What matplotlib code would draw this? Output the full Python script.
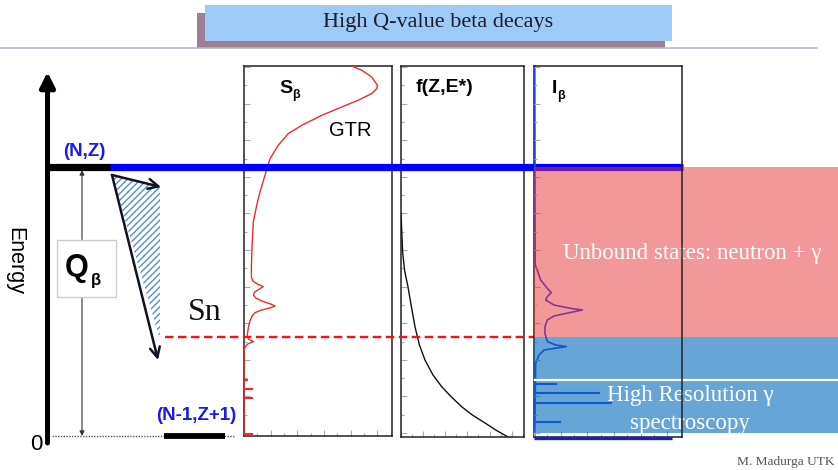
import matplotlib
matplotlib.use("Agg")
import matplotlib.pyplot as plt
from matplotlib.patches import Rectangle, Polygon
from matplotlib.ticker import MultipleLocator, AutoMinorLocator

plt.rcParams['hatch.linewidth'] = 1.0

# ---------------- data (energies in MeV, intensities normalised) ----------------
Q_BETA = 13.5          # Q-value of the decay (N,Z) level
S_N = 5.0              # neutron separation energy

# S_beta strength function (GTR)
sb_E = [18.7, 18.55, 18.34, 18.0, 17.59, 17.42, 17.17, 16.84, 16.5, 16.08,
        15.59, 15.17, 14.59, 13.92, 13.09, 12.25, 11.59, 10.75, 9.5, 8.5,
        8.0, 7.8, 7.65, 7.52, 7.4, 7.25, 7.1, 6.95, 6.8, 6.65, 6.55, 6.45,
        6.35, 6.22, 6.05, 5.8, 5.5, 5.1, 4.9, 4.77, 4.65, 4.5, 4.35, 0.0]
sb_val = [0.69, 0.728, 0.795, 0.863, 0.901, 0.897, 0.863, 0.772, 0.660, 0.525,
          0.392, 0.299, 0.232, 0.176, 0.142, 0.108, 0.086, 0.063, 0.054, 0.05,
          0.05, 0.06, 0.09, 0.13, 0.105, 0.072, 0.063, 0.08, 0.12, 0.18, 0.21,
          0.175, 0.12, 0.075, 0.055, 0.04, 0.03, 0.022, 0.03, 0.063, 0.025,
          0.008, 0.0, 0.0]
sb_lines_E = [2.85, 2.4, 1.95, 0.15]
sb_lines_val = [0.03, 0.06, 0.06, 0.06]

# Fermi function f(Z,E*)
f_E = [11.2, 10.0, 9.2, 8.3, 7.5, 6.5, 5.5, 4.6, 3.85, 3.1, 2.5, 2.0, 1.5,
       1.1, 0.7, 0.35, 0.0]
f_val = [0.0, 0.008, 0.014, 0.03, 0.057, 0.085, 0.114, 0.15, 0.195, 0.26,
         0.333, 0.41, 0.496, 0.58, 0.683, 0.77, 0.87]

# beta intensity I_beta
ib_E = [18.6, 8.6, 8.35, 7.85, 7.43, 7.22, 7.02, 6.85, 6.6, 6.43, 6.35, 6.23,
        6.05, 5.85, 5.52, 5.18, 4.77, 4.6, 4.52, 4.43, 4.35, 4.1, 3.68, 0.0]
ib_val = [0.005, 0.008, 0.022, 0.045, 0.09, 0.117, 0.09, 0.079, 0.135, 0.248,
          0.327, 0.248, 0.135, 0.09, 0.074, 0.074, 0.09, 0.147, 0.218, 0.135,
          0.068, 0.034, 0.011, 0.005]
ib_lines_E = [2.65, 2.2, 1.7, 0.75]
ib_lines_val = [0.155, 0.446, 0.527, 0.18]
ib_ground_E = -0.05
ib_ground_val = 0.93

# ---------------- layout helpers (pixels of the 838x470 canvas) ----------------
W, H = 838, 470
Y0_PX = 437            # pixel row of E = 0
PX_PER_MEV = 20.0


def E_at(ypx):
    return (Y0_PX - ypx) / PX_PER_MEV


def fig_box(x0, y0, x1, y1):
    return [x0 / W, 1 - y1 / H, (x1 - x0) / W, (y1 - y0) / H]


SANS = 'Liberation Sans'
SERIF = 'Liberation Serif'
BLUE = '#0000ff'
LBL_BLUE = '#1a1aee'

fig = plt.figure(figsize=(W / 100, H / 100), dpi=100)
fig.patch.set_facecolor('white')

ax_bg = fig.add_axes([0, 0, 1, 1], zorder=0)
ax_bg.set_xlim(0, W)
ax_bg.set_ylim(E_at(H), E_at(0))
ax_bg.axis('off')

# ---- title banner ----
ax_bg.add_patch(Rectangle((197, E_at(48)), 468, E_at(13) - E_at(48),
                          facecolor='#9b8096', edgecolor='none'))
ax_bg.add_patch(Rectangle((205, E_at(41)), 467, E_at(5) - E_at(41),
                          facecolor='#9dcbf7', edgecolor='none'))
ax_bg.plot([0, 817], [E_at(47.5)] * 2, color='#b4b8c8', lw=1.2)
ax_bg.text(438, E_at(23), 'High Q-value beta decays', ha='center', va='center',
           fontsize=16, family=SERIF, color='#1c1c30')

# ---- energy axis ----
ax_bg.annotate('', xy=(47.5, E_at(72)), xytext=(47.5, E_at(443)),
               arrowprops=dict(arrowstyle='-|>', lw=3.6, color='black',
                               mutation_scale=22, shrinkA=0, shrinkB=0))
ax_bg.text(15, E_at(261), 'Energy', rotation=270, ha='center', va='center',
           fontsize=15.5, family=SANS)
ax_bg.text(36, E_at(445), '0', ha='center', va='center', fontsize=16, family=SANS)

# ---- levels ----
ax_bg.hlines(Q_BETA, 47, 111, color='black', lw=5.2)
ax_bg.text(84, E_at(152), '(N,Z)', ha='center', va='center', fontsize=13.5,
           family=SANS, weight='bold', color=LBL_BLUE)
ax_bg.hlines(0.05, 52, 235, color='#555555', lw=1.0, linestyles=(0, (1, 1)))
ax_bg.hlines(0.05, 164, 225, color='black', lw=4.2)
ax_bg.text(196, E_at(416), '(N-1,Z+1)', ha='center', va='center', fontsize=13.5,
           family=SANS, weight='bold', color=LBL_BLUE)

# ---- Q_beta arrow and box ----
ax_bg.annotate('', xy=(82, Q_BETA - 0.15), xytext=(82, 0.05),
               arrowprops=dict(arrowstyle='<|-|>', lw=0.8, color='#333333',
                               mutation_scale=7, shrinkA=0, shrinkB=0))
ax_bg.add_patch(Rectangle((57, E_at(297)), 59, E_at(240) - E_at(297),
                          facecolor='white', edgecolor='#cccccc', lw=1.0, zorder=3))
ax_bg.text(77, E_at(268), 'Q', ha='center', va='center', fontsize=22,
           family=SANS, weight='bold', zorder=4)
ax_bg.text(96, E_at(281), 'β', ha='center', va='center', fontsize=12,
           family=SANS, weight='bold', zorder=4)

# ---- hatched feeding triangle ----
tri = Polygon([(112, E_at(175)), (160, E_at(187)), (160, E_at(340))],
              closed=True, facecolor='white', edgecolor='#4f8fcc', lw=0,
              hatch='/////', zorder=2)
ax_bg.add_patch(tri)
ax_bg.annotate('', xy=(161, E_at(187)), xytext=(112, E_at(175)),
               arrowprops=dict(arrowstyle='->,head_length=0.6,head_width=0.3',
                               lw=1.8, color='#111122', mutation_scale=12,
                               shrinkA=0, shrinkB=0), zorder=3)
ax_bg.annotate('', xy=(158, E_at(360)), xytext=(112, E_at(175)),
               arrowprops=dict(arrowstyle='->,head_length=0.6,head_width=0.3',
                               lw=1.8, color='#111122', mutation_scale=12,
                               shrinkA=0, shrinkB=0), zorder=3)
ax_bg.text(205, E_at(313), 'Sn', ha='center', va='center', fontsize=23,
           family=SERIF, color='#111111')

# bottom-right credit
ax_bg.text(737, E_at(462), 'M. Madurga UTK', ha='left', va='center', fontsize=9.6,
           family=SERIF, color='#555555')


# ---------------- panels ----------------
def style_panel(ax, e_bot_px, facecolor='white'):
    ax.set_xlim(0, 1)
    ax.set_ylim(E_at(e_bot_px), E_at(66))
    ax.set_facecolor(facecolor)
    for sp in ax.spines.values():
        sp.set_color('#222222')
        sp.set_linewidth(1.1)
    ax.yaxis.set_major_locator(MultipleLocator(1.83, offset=0.2))
    ax.yaxis.set_minor_locator(AutoMinorLocator(2))
    ax.xaxis.set_major_locator(MultipleLocator(0.18))
    ax.xaxis.set_minor_locator(AutoMinorLocator(2))
    ax.tick_params(which='both', direction='in', color='#aaaaaa',
                   labelleft=False, labelbottom=False, width=0.8)
    ax.tick_params(which='major', length=4)
    ax.tick_params(which='minor', length=2)


ax_S = fig.add_axes(fig_box(244, 66, 392, 436), zorder=1)
style_panel(ax_S, 436)
ax_S.plot(sb_val, sb_E, color='#ee2a2a', lw=1.0, zorder=3, solid_joinstyle='round')
ax_S.hlines(sb_lines_E, 0, sb_lines_val, color='#ee2a2a', lw=1.5, zorder=3)
ax_S.text(279, E_at(93), 'S', transform=ax_bg.transData, fontsize=14,
          family=SANS, weight='bold', va='baseline')
ax_S.text(292, E_at(98), 'β', transform=ax_bg.transData, fontsize=9,
          family=SANS, weight='bold', va='baseline')
ax_S.text(350, E_at(130), 'GTR', transform=ax_bg.transData, fontsize=14.5,
          family=SANS, ha='center', va='center')

ax_f = fig.add_axes(fig_box(401, 66, 524, 437), zorder=1)
style_panel(ax_f, 437)
ax_f.plot(f_val, f_E, color='#111111', lw=1.0, zorder=3)
ax_f.text(416, E_at(92), 'f(Z,E*)', transform=ax_bg.transData, fontsize=14,
          family=SANS, weight='bold', va='baseline')

# middle overlay: levels crossing the panels
ax_mid = fig.add_axes([0, 0, 1, 1], zorder=2)
ax_mid.set_xlim(0, W)
ax_mid.set_ylim(E_at(H), E_at(0))
ax_mid.axis('off')
ax_mid.patch.set_alpha(0)
ax_mid.hlines(Q_BETA, 110, 683, color=BLUE, lw=5.2)
ax_mid.hlines(S_N, 165, 534, color='#ff1010', lw=1.7,
              linestyles=(0, (3.6, 1.9)))

# I_beta panel with overlaid regions
ax_I = fig.add_axes(fig_box(534, 66, 682, 437), zorder=3)
style_panel(ax_I, 437, facecolor='none')
ax_I.spines['left'].set_zorder(1.0)
ax_I.plot(ib_val, ib_E, color='#1f3ff0', lw=1.2, zorder=1.5, solid_joinstyle='round')
ax_I.hlines(ib_lines_E, 0, ib_lines_val, color='#1f3ff0', lw=1.5, zorder=1.5)
ax_I.hlines(ib_ground_E, 0, ib_ground_val, color='#1a1ad8', lw=2.4, zorder=2.6,
            clip_on=False)
ax_I.text(552, E_at(93), 'I', transform=ax_bg.transData, fontsize=14,
          family=SANS, weight='bold', va='baseline', zorder=5)
ax_I.text(557, E_at(99), 'β', transform=ax_bg.transData, fontsize=9,
          family=SANS, weight='bold', va='baseline', zorder=5)

ax_I.add_patch(Rectangle((534, S_N), W - 534, Q_BETA - S_N,
                         transform=ax_bg.transData, facecolor=(233 / 255, 51 / 255, 53 / 255),
                         alpha=0.5, edgecolor='none', zorder=2, clip_on=False))
ax_I.add_patch(Rectangle((534, 0.2), W - 534, S_N - 0.2,
                         transform=ax_bg.transData, facecolor=(0, 105 / 255, 187 / 255),
                         alpha=0.6, edgecolor='none', zorder=2, clip_on=False))
ax_I.plot([535, W], [E_at(379.5)] * 2, transform=ax_bg.transData, color='white',
          lw=1.6, zorder=2.2, clip_on=False)
ax_I.text(692, E_at(253), 'Unbound states: neutron + γ', transform=ax_bg.transData,
          ha='center', va='center', fontsize=16.5, family=SERIF, color='white',
          zorder=2.3, clip_on=False)
ax_I.text(690, E_at(396), 'High Resolution γ', transform=ax_bg.transData,
          ha='center', va='center', fontsize=16.5, family=SERIF, color='white',
          zorder=2.3, clip_on=False)
ax_I.text(690, E_at(423), 'spectroscopy', transform=ax_bg.transData,
          ha='center', va='center', fontsize=16.5, family=SERIF, color='white',
          zorder=2.3, clip_on=False)

fig.savefig('out.png', dpi=100, facecolor='white')
